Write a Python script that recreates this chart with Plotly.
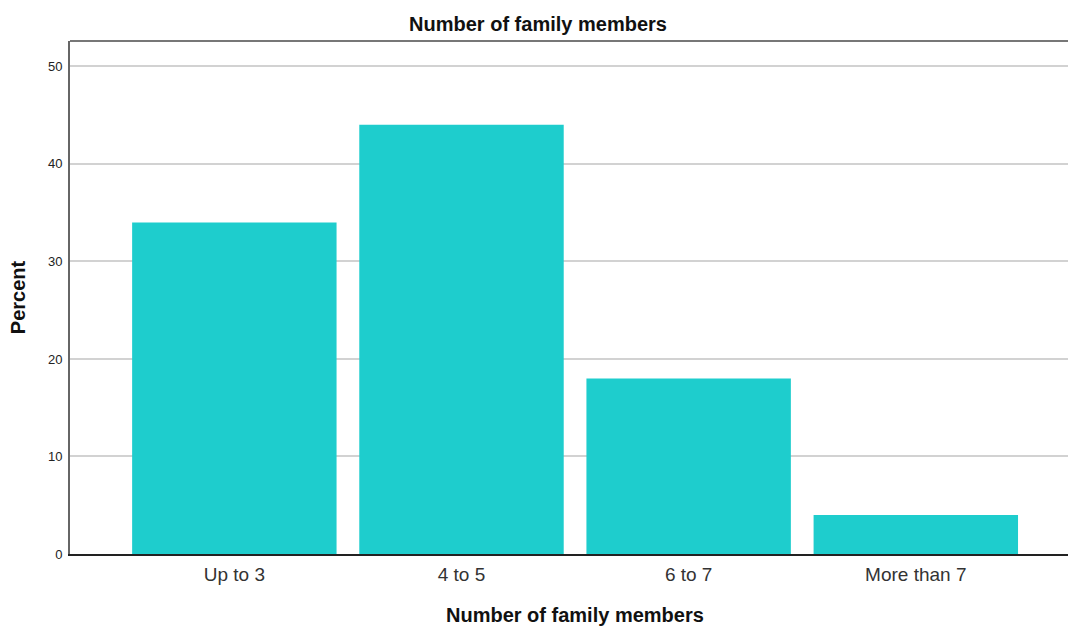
import plotly.graph_objects as go

categories = ["Up to 3", "4 to 5", "6 to 7", "More than 7"]
percent = [34.0, 44.0, 18.0, 4.0]
y_ticks = [0, 10, 20, 30, 40, 50]

W, H = 1068, 627
L = 70

fig = go.Figure(go.Bar(
    x=categories, y=percent,
    marker=dict(color="#1ECDCD", line=dict(width=0)),
    hoverinfo="x+y",
))

fig.update_layout(
    width=W, height=H,
    margin=dict(l=L, r=0, t=41, b=73),
    paper_bgcolor="white", plot_bgcolor="white",
    font=dict(family="Liberation Sans, Arial, sans-serif", color="#222"),
    bargap=0.1,
    showlegend=False,
    title=dict(text="<b>Number of family members</b>", x=(538 - L) / (W - L), xref="paper",
               xanchor="center", y=1 - 24 / H, yanchor="middle", font=dict(size=20, color="#111")),
)

fig.update_xaxes(
    range=[-0.7235, 3.67],
    showline=True, linecolor="#222", linewidth=1.5,
    showgrid=False, ticks="", tickfont=dict(size=19, color="#333"),
    ticklabelstandoff=2,
)

fig.add_annotation(text="<b>Number of family members</b>", xref="paper", yref="paper",
                   x=(575 - L) / (W - L), y=-(615 - 554) / (H - 41 - 73),
                   xanchor="center", yanchor="middle", showarrow=False,
                   font=dict(size=20, color="#111"))

fig.update_yaxes(
    range=[0, 52.6],
    tickvals=y_ticks,
    showline=True, linecolor="#666", linewidth=2,
    showgrid=True, gridcolor="#d2d2d2", gridwidth=2,
    zeroline=False,
    ticks="outside", ticklen=3, tickcolor="white",
    tickfont=dict(size=13, color="#222"),
    title=dict(text="<b>Percent</b>", font=dict(size=20, color="#111"), standoff=17),
)

fig.add_shape(type="line", xref="paper", yref="paper", x0=0, x1=1, y0=1, y1=1,
              line=dict(color="#777", width=2))

fig.write_html("out.html", config={"displayModeBar": False},
               post_script="document.body.style.margin='0';document.body.style.overflow='hidden';")
